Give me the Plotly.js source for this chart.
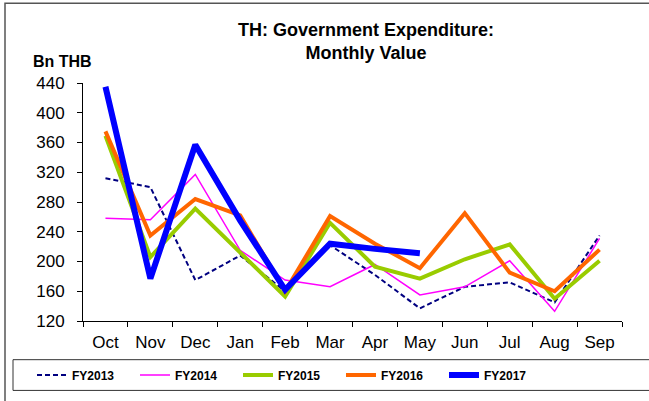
<!DOCTYPE html>
<html>
<head>
<meta charset="utf-8">
<script src="https://cdn.plot.ly/plotly-3.0.1.min.js"></script>
<style>html,body{margin:0;padding:0;background:#fff;}#chart{width:649px;height:401px;}</style>
</head>
<body>
<div id="chart"></div>
<script>
const months = ["Oct","Nov","Dec","Jan","Feb","Mar","Apr","May","Jun","Jul","Aug","Sep"];
const fy2013 = [312, 300, 175, 208, 160, 222, 182, 137, 166, 172, 145, 235];
const fy2014 = [258, 256, 317, 215, 175, 166, 196, 155, 166, 201, 133, 231];
const fy2015 = [369, 206, 271, 212, 153, 252, 193, 177, 203, 223, 150, 201];
const fy2016 = [375, 235, 284, 262, 160, 261, 224, 191, 265, 185, 160, 216];
const fy2017 = [435, 177, 357, 255, 162, 224, 217, 211, null, null, null, null];
const yTicks = [120, 160, 200, 240, 280, 320, 360, 400, 440];

const W = 649, H = 401;
const L = 83, R = 622, T = 83, B = 323;
const px = x => (x - L) / (R - L);
const py = y => (B - y) / (B - T);
const FONT = "Liberation Sans, Arial, sans-serif";

const traces = [
  {name: "FY2013", y: fy2013, line: {color: "#000080", width: 2, dash: "5px,3px"}},
  {name: "FY2014", y: fy2014, line: {color: "#FF00FF", width: 1.5}},
  {name: "FY2015", y: fy2015, line: {color: "#99CC00", width: 4}},
  {name: "FY2016", y: fy2016, line: {color: "#FF6600", width: 4}},
  {name: "FY2017", y: fy2017, line: {color: "#0000FF", width: 6}}
].map(t => Object.assign({x: months, type: "scatter", mode: "lines", connectgaps: false, hoverinfo: "skip"}, t));

const layout = {
  width: W, height: H,
  margin: {l: L, r: W - R, t: T, b: H - B, pad: 0},
  paper_bgcolor: "#fff", plot_bgcolor: "#fff",
  font: {family: FONT, color: "#000"},
  title: {
    text: "<b>TH: Government Expenditure:<br>Monthly Value</b>",
    x: 366 / W, xanchor: "center", xref: "container",
    y: 1 - 36 / H, yanchor: "top", yref: "container",
    font: {size: 18, color: "#000", family: FONT}
  },
  xaxis: {
    type: "category", categoryorder: "array", categoryarray: months,
    range: [-0.5, 11.5], showgrid: false, zeroline: false,
    showline: true, linecolor: "#000", linewidth: 1,
    ticks: "outside", ticklen: 5, tickcolor: "#000", tickson: "boundaries",
    ticklabelstandoff: 6,
    tickfont: {size: 17, color: "#000", family: FONT}, fixedrange: true
  },
  yaxis: {
    range: [120, 440], tickvals: yTicks, ticktext: yTicks.map(String),
    showgrid: false, zeroline: false,
    showline: true, linecolor: "#000", linewidth: 1,
    ticks: "outside", ticklen: 5, tickcolor: "#000",
    ticklabelstandoff: 9,
    tickfont: {size: 17, color: "#000", family: FONT}, fixedrange: true
  },
  showlegend: true,
  legend: {
    orientation: "h", x: px(32), xanchor: "left", y: py(377.5), yanchor: "middle",
    font: {size: 12, color: "#000", family: FONT, weight: "bold"},
    bgcolor: "rgba(0,0,0,0)", borderwidth: 0,
    entrywidth: 58, entrywidthmode: "pixels", traceorder: "normal", itemclick: false
  },
  annotations: [
    {text: "<b>Bn THB</b>", xref: "paper", yref: "paper", x: px(31), y: py(61), xanchor: "left", yanchor: "middle",
     showarrow: false, font: {size: 16, color: "#000", family: FONT}}
  ],
  shapes: [
    {type: "rect", xref: "paper", yref: "paper", x0: px(5), x1: px(720), y0: py(460), y1: py(2.5),
     line: {color: "#555", width: 1.5}, fillcolor: "rgba(0,0,0,0)", layer: "below"},
    {type: "rect", xref: "paper", yref: "paper", x0: px(13), x1: px(720), y0: py(393), y1: py(362),
     line: {color: "#333", width: 1}, fillcolor: "rgba(0,0,0,0)", layer: "below"}
  ]
};

Plotly.newPlot("chart", traces, layout, {staticPlot: true, displayModeBar: false});
</script>
</body>
</html>
